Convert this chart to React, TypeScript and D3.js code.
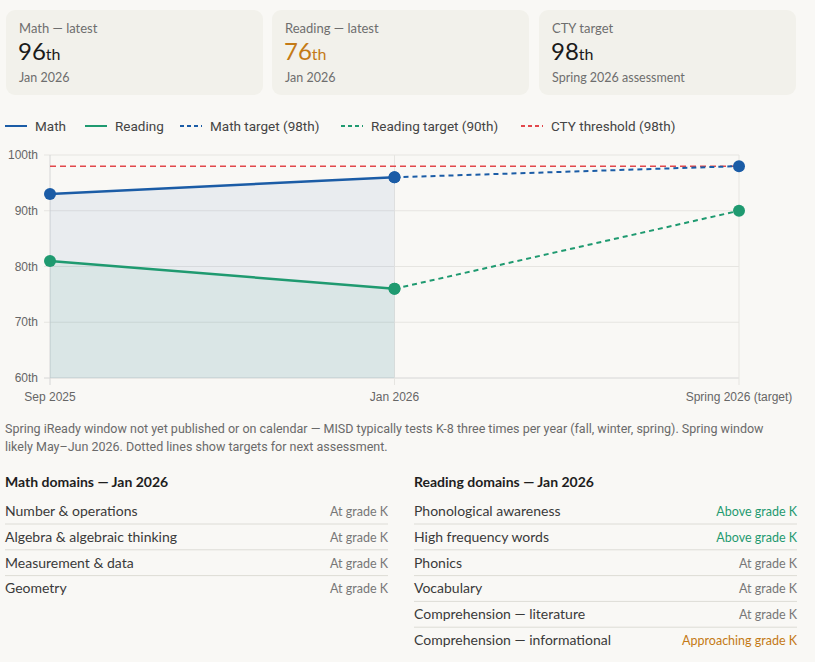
import React from "react";
import * as d3 from "d3";

// ---- data ----
const cardLabels = ["Math — latest", "Reading — latest", "CTY target"];
const cardValues = ["96", "76", "98"];
const cardSubs = ["Jan 2026", "Jan 2026", "Spring 2026 assessment"];
const cardAccent = [false, true, false];

const categories = ["Sep 2025", "Jan 2026", "Spring 2026 (target)"];
const mathValues = [93, 96];
const readingValues = [81, 76];
const mathTarget = [null, 96, 98];
const readingTarget = [null, 76, 90];
const ctyThreshold = [98, 98, 98];
const yTicks = [60, 70, 80, 90, 100];

const legendLabels = ["Math", "Reading", "Math target (98th)", "Reading target (90th)", "CTY threshold (98th)"];

const noteLines = [
  "Spring iReady window not yet published or on calendar — MISD typically tests K-8 three times per year (fall, winter, spring). Spring window",
  "likely May–Jun 2026. Dotted lines show targets for next assessment.",
];

const mathDomains = ["Number & operations", "Algebra & algebraic thinking", "Measurement & data", "Geometry"];
const mathStatus = ["At grade K", "At grade K", "At grade K", "At grade K"];
const readingDomains = [
  "Phonological awareness",
  "High frequency words",
  "Phonics",
  "Vocabulary",
  "Comprehension — literature",
  "Comprehension — informational",
];
const readingStatus = [
  "Above grade K",
  "Above grade K",
  "At grade K",
  "At grade K",
  "At grade K",
  "Approaching grade K",
];

// ---- styles ----
const BG = "#f9f8f5";
const CARD = "#f2f1eb";
const BLUE = "#1b5ca6";
const GREEN = "#1f9a70";
const RED = "#e2474b";
const ORANGE = "#c47a16";
const UI = "Lato, 'Open Sans', sans-serif";
const CHARTF = "'Liberation Sans', Arial, sans-serif";
const LEGF = "Roboto, sans-serif";

function statusColor(s: string) {
  if (s.startsWith("Above")) return GREEN;
  if (s.startsWith("Approaching")) return ORANGE;
  return "#777";
}

export default function App() {
  const x = d3.scalePoint<string>().domain(categories).range([50, 739]);
  const y = d3.scaleLinear().domain([60, 100]).range([378, 155]);

  const lineGen = d3
    .line<[string, number | null]>()
    .defined((d) => d[1] != null)
    .x((d) => x(d[0]) as number)
    .y((d) => y(d[1] as number));
  const areaGen = d3
    .area<[string, number]>()
    .x((d) => x(d[0]) as number)
    .y0(y(60))
    .y1((d) => y(d[1]));

  const mathPts: [string, number][] = mathValues.map((v, i) => [categories[i], v]);
  const readPts: [string, number][] = readingValues.map((v, i) => [categories[i], v]);
  const mathTPts = mathTarget.map((v, i) => [categories[i], v] as [string, number | null]);
  const readTPts = readingTarget.map((v, i) => [categories[i], v] as [string, number | null]);
  const ctyPts = ctyThreshold.map((v, i) => [categories[i], v] as [string, number | null]);

  const cardX = [6, 272, 539];
  const cardW = 257;

  const legendX = [5, 85, 180, 341, 521];
  const legendColor = [BLUE, GREEN, BLUE, GREEN, RED];
  const legendDash = [null, null, "4,3", "4,3", "4,3"];

  const rowH = 25.8;

  return (
    <div style={{ position: "absolute", left: 0, top: 0, width: 815, height: 662, background: BG }}>
      <svg width={815} height={662} style={{ display: "block" }}>
        <rect width={815} height={662} fill={BG} />
        {/* cards */}
        {cardLabels.map((lab, i) => (
          <g key={lab} transform={`translate(${cardX[i]},10)`}>
            <rect width={cardW} height={85} rx={9} fill={CARD} />
            <text x={13} y={23} fontFamily={UI} fontSize={13} fill="#6e6e6e">
              {lab}
            </text>
            <text x={12} y={50} fontFamily={UI} fill={cardAccent[i] ? ORANGE : "#1a1a1a"}>
              <tspan fontSize={24}>{cardValues[i]}</tspan>
              <tspan fontSize={16}>th</tspan>
            </text>
            <text x={13} y={72} fontFamily={UI} fontSize={12.5} fill="#6e6e6e">
              {cardSubs[i]}
            </text>
          </g>
        ))}

        {/* legend */}
        {legendLabels.map((lab, i) => (
          <g key={lab} transform={`translate(${legendX[i]},126)`}>
            <line
              x1={0}
              x2={22}
              y1={0}
              y2={0}
              stroke={legendColor[i]}
              strokeWidth={2}
              strokeDasharray={legendDash[i] ?? undefined}
            />
            <text x={30} y={0} dy="0.35em" fontFamily={LEGF} fontSize={13.5} fill="#444">
              {lab}
            </text>
          </g>
        ))}

        {/* grid */}
        {yTicks.map((t) => (
          <g key={t}>
            <line x1={44} x2={739} y1={y(t)} y2={y(t)} stroke={t === 60 ? "#d6d6d6" : "#e6e5e1"} strokeWidth={1} />
            <text x={38} y={y(t)} dy="0.35em" textAnchor="end" fontFamily={CHARTF} fontSize={12} fill="#666">
              {t}th
            </text>
          </g>
        ))}
        {categories.map((c, i) => (
          <g key={c}>
            <line
              x1={x(c)}
              x2={x(c)}
              y1={155}
              y2={385}
              stroke={i === 0 ? "#d6d6d6" : "#e6e5e1"}
              strokeWidth={1}
            />
            <text x={x(c)} y={397} dy="0.35em" textAnchor="middle" fontFamily={CHARTF} fontSize={12} fill="#666">
              {c}
            </text>
          </g>
        ))}

        {/* areas */}
        <path d={areaGen(mathPts) as string} fill="rgba(27,92,166,0.07)" />
        <path d={areaGen(readPts) as string} fill="rgba(31,154,112,0.07)" />

        {/* threshold */}
        <path d={lineGen(ctyPts) as string} fill="none" stroke={RED} strokeWidth={1.5} strokeDasharray="6,4" />
        {/* targets */}
        <path d={lineGen(mathTPts) as string} fill="none" stroke={BLUE} strokeWidth={2} strokeDasharray="5,4" />
        <path d={lineGen(readTPts) as string} fill="none" stroke={GREEN} strokeWidth={2} strokeDasharray="5,4" />
        {/* actual lines */}
        <path d={lineGen(mathPts) as string} fill="none" stroke={BLUE} strokeWidth={2.5} />
        <path d={lineGen(readPts) as string} fill="none" stroke={GREEN} strokeWidth={2.5} />

        {/* points */}
        {mathTPts.filter((d) => d[1] != null).map((d) => (
          <circle key={"mt" + d[0]} cx={x(d[0])} cy={y(d[1] as number)} r={6} fill={BLUE} />
        ))}
        {readTPts.filter((d) => d[1] != null).map((d) => (
          <circle key={"rt" + d[0]} cx={x(d[0])} cy={y(d[1] as number)} r={6} fill={GREEN} />
        ))}
        {mathPts.map((d) => (
          <circle key={"m" + d[0]} cx={x(d[0])} cy={y(d[1])} r={6} fill={BLUE} />
        ))}
        {readPts.map((d) => (
          <circle key={"r" + d[0]} cx={x(d[0])} cy={y(d[1])} r={6} fill={GREEN} />
        ))}

        {/* note */}
        {noteLines.map((l, i) => (
          <text key={i} x={5} y={433 + i * 18} fontFamily={LEGF} fontSize={12.5} fill="#6a6a6a">
            {l}
          </text>
        ))}

        {/* domains */}
        {[
          { x0: 5, x1: 388, title: "Math domains — Jan 2026", names: mathDomains, status: mathStatus },
          { x0: 414, x1: 797, title: "Reading domains — Jan 2026", names: readingDomains, status: readingStatus },
        ].map((sec) => (
          <g key={sec.title}>
            <text x={sec.x0} y={487} fontFamily={UI} fontSize={14} fontWeight={700} fill="#1e1e1e">
              {sec.title}
            </text>
            {sec.names.map((n, i) => (
              <g key={n}>
                <text x={sec.x0} y={516 + i * rowH} fontFamily={UI} fontSize={14} fill="#3a3a3a">
                  {n}
                </text>
                <text
                  x={sec.x1}
                  y={516 + i * rowH}
                  textAnchor="end"
                  fontFamily={UI}
                  fontSize={12.5}
                  fill={statusColor(sec.status[i])}
                >
                  {sec.status[i]}
                </text>
                {i < sec.names.length - 1 && (
                  <line
                    x1={sec.x0}
                    x2={sec.x1}
                    y1={524 + i * rowH}
                    y2={524 + i * rowH}
                    stroke="#dddcd6"
                    strokeWidth={1}
                  />
                )}
              </g>
            ))}
          </g>
        ))}
      </svg>
    </div>
  );
}
